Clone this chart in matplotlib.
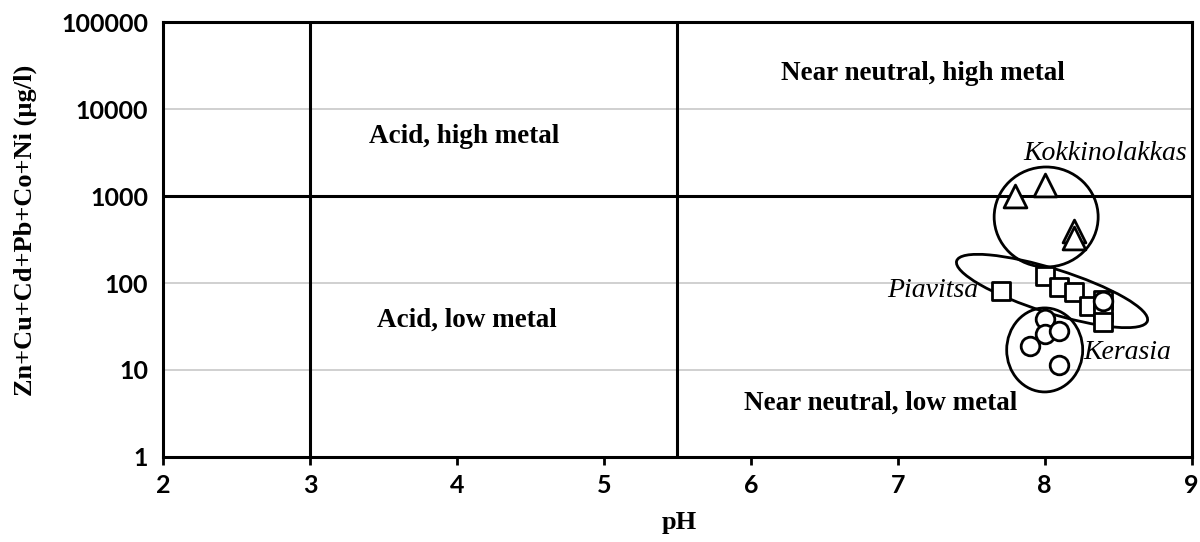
import matplotlib
matplotlib.use("Agg")
import matplotlib.pyplot as plt
from matplotlib.patches import Ellipse
from matplotlib.transforms import ScaledTranslation
import numpy as np

# Data
kokk_ph = [7.8, 8.0, 8.2, 8.2]
kokk_val = [1000, 1350, 400, 330]
piav_ph = [7.7, 8.0, 8.1, 8.2, 8.3, 8.4, 8.4, 8.4]
piav_val = [82, 120, 90, 78, 54, 64, 46, 36]
ker_ph = [8.0, 8.0, 8.1, 7.9, 8.1, 8.4]
ker_val = [39, 26, 28, 19, 11.4, 62]

x_ticks = [2, 3, 4, 5, 6, 7, 8, 9]
y_ticks = [1, 10, 100, 1000, 10000, 100000]
y_tick_labels = ["1", "10", "100", "1000", "10000", "100000"]
ph_bounds = [3, 5.5]
metal_bound = 1000

regions = [
    ("Near neutral, high metal", 7.17, 26000),
    ("Acid, high metal", 4.05, 4900),
    ("Acid, low metal", 4.07, 37),
    ("Near neutral, low metal", 6.88, 4.2),
]
# group label: text, x, y, ha
groups = [
    ("Kokkinolakkas", 8.41, 3100, "center"),
    ("Piavitsa", 7.55, 82, "right"),
    ("Kerasia", 8.26, 16, "left"),
]
# group outlines: center ph, center value, width px, height px, angle
outlines = [
    (8.01, 575, 104, 100, 0),
    (8.05, 81, 200, 44, -17.5),
    (8.0, 17, 76, 84, 0),
]

fig = plt.figure(figsize=(12, 5.42), dpi=100)
ax = fig.add_axes([0.136, 0.157, 0.857, 0.802])
ax.set_yscale("log")
ax.set_xlim(2, 9)
ax.set_ylim(1, 100000)

serif = "Liberation Serif"
sans = "Lato"

for yv in [10, 100, 10000]:
    ax.axhline(yv, color="#c8c8c8", lw=1.2, zorder=1)
for xv in ph_bounds:
    ax.axvline(xv, color="black", lw=2.2, zorder=2)
ax.axhline(metal_bound, color="black", lw=2.2, zorder=2)

for s in ax.spines.values():
    s.set_linewidth(2.2)

ax.set_xticks(x_ticks)
ax.set_xticklabels([str(x) for x in x_ticks], fontfamily=sans, fontsize=18, fontweight="bold")
ax.set_yticks(y_ticks)
ax.set_yticklabels(y_tick_labels, fontfamily=sans, fontsize=18, fontweight="bold")
ax.yaxis.set_minor_locator(matplotlib.ticker.NullLocator())
ax.tick_params(axis="x", direction="out", length=6, width=2, pad=6)
ax.tick_params(axis="y", length=0, pad=11)

mk = dict(facecolor="white", edgecolor="black", linewidths=2.0, zorder=5)
ax.scatter(kokk_ph, kokk_val, marker="^", s=270, **mk)
ax.scatter(piav_ph, piav_val, marker="s", s=180, **mk)
ax.scatter(ker_ph, ker_val, marker="o", s=180, **mk)

for txt, x, y in regions:
    ax.text(x, y, txt, fontfamily=serif, fontweight="bold", fontsize=19.5,
            ha="center", va="center", zorder=6)
for txt, x, y, ha in groups:
    ax.text(x, y, txt, fontfamily=serif, style="italic", fontsize=20,
            ha=ha, va="center", zorder=6)

for cx, cy, w, h, ang in outlines:
    tr = fig.dpi_scale_trans + ScaledTranslation(cx, cy, ax.transData)
    e = Ellipse((0, 0), w / 100, h / 100, angle=ang, transform=tr,
                fill=False, edgecolor="black", lw=2.0, zorder=4)
    ax.add_patch(e)

ax.set_xlabel("pH", fontfamily=serif, fontweight="bold", fontsize=19)
ax.xaxis.set_label_coords(0.502, -0.125)
ax.set_ylabel("Zn+Cu+Cd+Pb+Co+Ni (µg/l)", fontfamily=serif, fontweight="bold",
              fontsize=19)
ax.yaxis.set_label_coords(-0.123, 0.52)

fig.savefig("out.png", dpi=100)
